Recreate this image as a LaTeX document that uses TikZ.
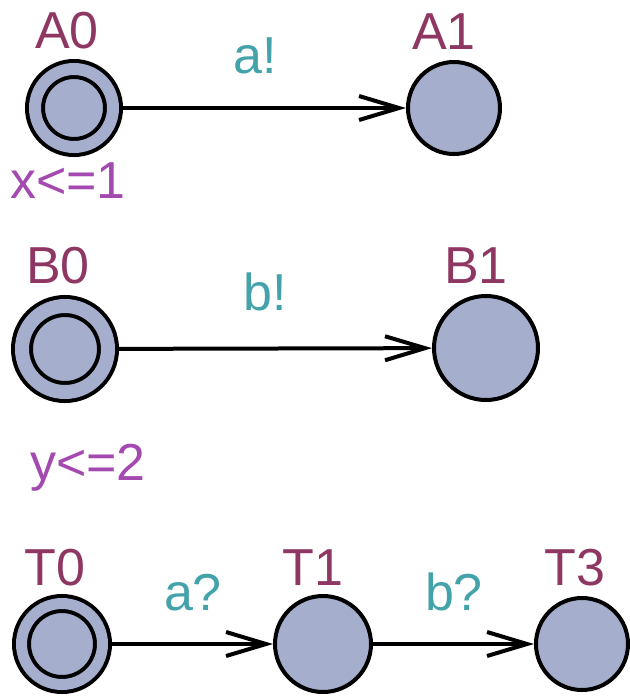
\documentclass[tikz,border=0pt]{standalone}
\usepackage{fontspec}
\setmainfont{Liberation Sans}
\usetikzlibrary{arrows.meta}
\definecolor{locfill}{HTML}{A5AECC}
\definecolor{namecol}{HTML}{8E3763}
\definecolor{invcol}{HTML}{A349B0}
\definecolor{synccol}{HTML}{44A3AA}
\begin{document}
\begin{tikzpicture}[
    x=0.5pt, y=-0.5pt,
    font=\fontsize{26}{31}\selectfont,
    loc/.style={circle, draw, line width=2pt, fill=locfill, inner sep=0pt},
    initloc/.style={loc, double=locfill, double distance=6pt, outer sep=5pt},
    lname/.style={anchor=base, inner sep=0pt, text=namecol},
    inv/.style={anchor=base, inner sep=0pt, text=invcol},
    sync/.style={anchor=base, inner sep=0pt, text=synccol},
    trans/.style={-{Straight Barb[length=20pt, width=12pt]}, line width=2pt}
]
    \useasboundingbox (0,0) rectangle (629,697);

    % process A
    \node[initloc, minimum size=39pt] (A0) at (74,108) {};
    \node[loc, minimum size=46pt] (A1) at (454,108) {};
    \node[lname] (A0name) at (67,48) {A0};
    \node[lname] (A1name) at (444,49) {A1};
    \node[inv] (A0inv) at (68,198) {x<=1};
    \node[sync] (asend) at (255,73) {a!};
    \draw[trans] (A0) -- (A1);

    % process B
    \node[initloc, minimum size=43pt, double distance=7pt, outer sep=5.5pt] (B0) at (65,349) {};
    \node[loc, minimum size=52pt] (B1) at (486,348) {};
    \node[lname] (B0name) at (58,283) {B0};
    \node[lname] (B1name) at (476,283) {B1};
    \node[inv] (B0inv) at (88,480) {y<=2};
    \node[sync] (bsend) at (265,310) {b!};
    \draw[trans] (B0) -- (B1);

    % test automaton
    \node[initloc, minimum size=40.5pt, double distance=5.5pt, outer sep=4.75pt] (T0) at (62,644) {};
    \node[loc, minimum size=48pt] (T1) at (323,644) {};
    \node[loc, minimum size=46pt] (T3) at (582,644) {};
    \node[lname] (T0name) at (55,585) {T0};
    \node[lname] (T1name) at (313,585) {T1};
    \node[lname] (T3name) at (575,585) {T3};
    \node[sync] (arecv) at (193,610) {a?};
    \node[sync] (brecv) at (454,610) {b?};
    \draw[trans] (T0) -- (T1);
    \draw[trans] (T1) -- (T3);
\end{tikzpicture}
\end{document}
